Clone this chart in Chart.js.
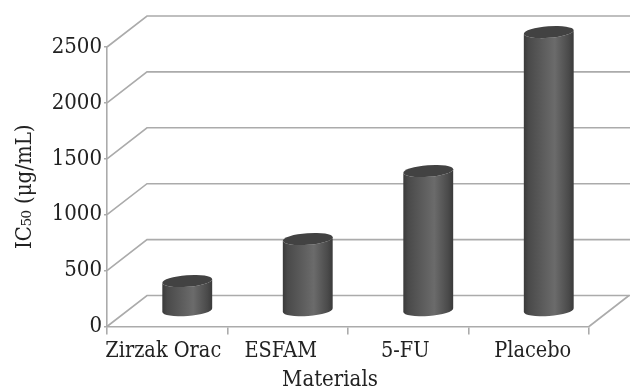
<!DOCTYPE html>
<html>
<head>
<meta charset="utf-8">
<style>html,body{margin:0;padding:0;background:#fff}canvas{display:block}</style>
<script src="https://cdn.jsdelivr.net/npm/chart.js@4"></script>
</head>
<body>
<div style="width:630px;height:391px"><canvas id="c" width="630" height="391"></canvas></div>
<script>
const categories = ["Zirzak Orac", "ESFAM", "5-FU", "Placebo"];
const ic50Values = [268, 644, 1252, 2495];
const yTicks = [0, 500, 1000, 1500, 2000, 2500];
const xTitle = "Materials";
const yTitle = "IC₅₀ (μg/mL)";

const DEPTH_X = 40, DEPTH_Y = 31;
const GRID = "#ababab";
const FONT = "'DejaVu Serif Condensed','DejaVu Serif',serif";
const LABEL_NUDGE = [-4, -7, -3, 4];

function drawCylinder(ctx, el) {
  const p = el.getProps(["x", "y", "base", "width"], true);
  const cx = p.x + DEPTH_X / 2, w = p.width;
  const top = p.y - DEPTH_Y / 2, bot = p.base - DEPTH_Y / 2;
  const rx = w / 2, ry = 5.8, rot = -0.075;
  const l = cx - rx, r = cx + rx;
  const grad = ctx.createLinearGradient(l, 0, r, 0);
  grad.addColorStop(0, "#3a3a3a");
  grad.addColorStop(0.1, "#4a4a4a");
  grad.addColorStop(0.62, "#6b6b6b");
  grad.addColorStop(0.9, "#4a4a4a");
  grad.addColorStop(1, "#3a3a3a");
  ctx.save();
  ctx.beginPath();
  ctx.ellipse(cx, bot, rx, ry, rot, 0, Math.PI);
  ctx.lineTo(cx - rx * Math.cos(rot), top - rx * Math.sin(rot) * -1);
  ctx.ellipse(cx, top, rx, ry, rot, Math.PI, 0, true);
  ctx.closePath();
  ctx.fillStyle = grad;
  ctx.fill();
  ctx.beginPath();
  ctx.ellipse(cx, top, rx, ry, rot, 0, Math.PI * 2);
  ctx.fillStyle = "#424242";
  ctx.fill();
  ctx.restore();
}

const cylinderPlugin = {
  id: "cylinder3d",
  beforeDraw(chart) {
    chart.scales.x.getLabelItems(chart.chartArea).forEach((item, i) => {
      item.options.translation[0] += LABEL_NUDGE[i];
    });
  },
  beforeDatasetsDraw(chart) {
    const { ctx, scales: { x, y } } = chart;
    const left = x.left, right = x.right;
    ctx.save();
    ctx.strokeStyle = GRID;
    ctx.lineWidth = 1.6;
    yTicks.forEach(v => {
      const py = y.getPixelForValue(v);
      ctx.beginPath();
      ctx.moveTo(left, py);
      ctx.lineTo(left + DEPTH_X, py - DEPTH_Y);
      ctx.lineTo(right + DEPTH_X + 2, py - DEPTH_Y);
      ctx.stroke();
    });
    const y0 = y.getPixelForValue(0);
    ctx.beginPath();
    ctx.moveTo(right, y0);
    ctx.lineTo(right + DEPTH_X, y0 - DEPTH_Y);
    ctx.stroke();
    ctx.restore();
    chart.getDatasetMeta(0).data.forEach(el => {
      el.draw = c => drawCylinder(c, el);
    });
  },
  afterDraw(chart) {
    const { ctx, scales: { x } } = chart;
    ctx.save();
    ctx.font = "22px " + FONT;
    ctx.fillStyle = "#222";
    ctx.textAlign = "center";
    ctx.textBaseline = "middle";
    ctx.fillText(xTitle, x.getPixelForValue(1.5) - 18, 380);
    ctx.restore();
  }
};

new Chart(document.getElementById("c"), {
  type: "bar",
  data: {
    labels: categories,
    datasets: [{ label: "IC50", data: ic50Values, backgroundColor: "#555555", barThickness: 50, clip: false }]
  },
  plugins: [cylinderPlugin],
  options: {
    responsive: false,
    animation: false,
    layout: { padding: { top: 47, right: 41, left: 0, bottom: 0 } },
    plugins: { legend: { display: false }, tooltip: { enabled: false } },
    scales: {
      x: {
        afterFit(s) { s.height = 64.5; },
        grid: { drawOnChartArea: false, color: GRID, lineWidth: 1.6, tickLength: 8, offset: true },
        border: { color: GRID, width: 1.6 },
        ticks: { color: "#222", font: { family: FONT, size: 21.5 }, padding: 4, maxRotation: 0, autoSkip: false }
      },
      y: {
        min: 0, max: 2500,
        afterFit(s) { s.width = 107; },
        afterBuildTicks(s) { s.ticks = yTicks.map(v => ({ value: v })); },
        grid: { drawOnChartArea: false, color: GRID, lineWidth: 1.6, tickLength: 3 },
        border: { color: GRID, width: 1.6 },
        ticks: { color: "#222", font: { family: FONT, size: 22 }, padding: 2, callback: v => String(v) },
        title: { display: true, text: yTitle, color: "#222", font: { family: FONT, size: 22 }, padding: { top: 12, bottom: 0 } }
      }
    }
  }
});
</script>
</body>
</html>
